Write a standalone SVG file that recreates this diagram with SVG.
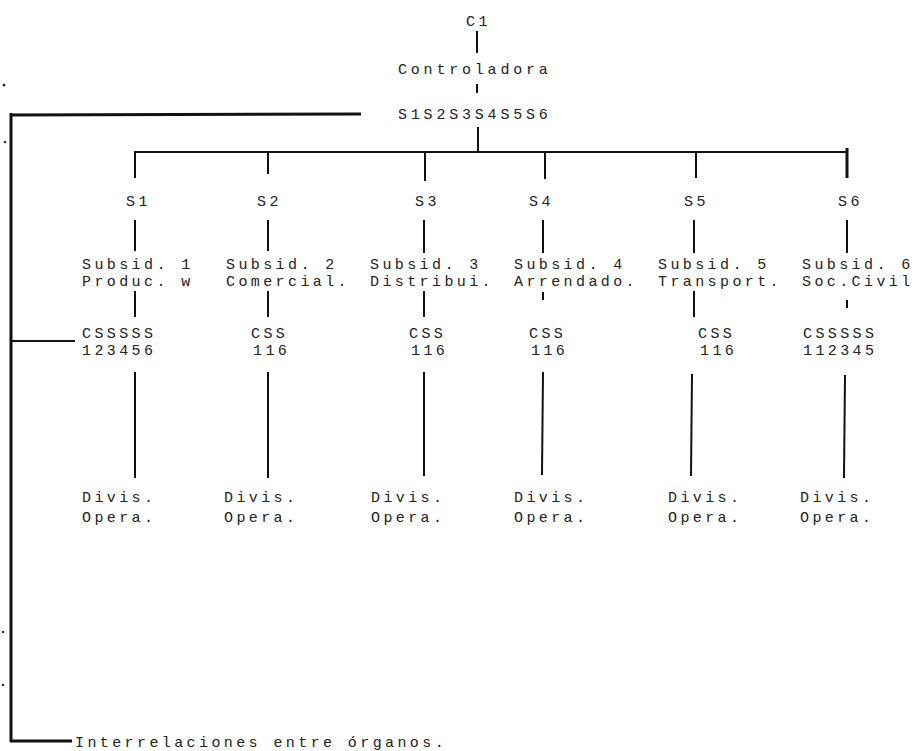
<svg xmlns="http://www.w3.org/2000/svg" width="921" height="751" viewBox="0 0 921 751">
<style>
  text { font-family: "Liberation Mono", "DejaVu Sans Mono", monospace; font-size: 15px; letter-spacing: 3.4px; fill: #222; }
  .wide { letter-spacing: 3.8px; }
  .ln { stroke: #111; stroke-width: 2; fill: none; stroke-linecap: square; }
  .thick { stroke: #111; stroke-width: 3; fill: none; }
  .dot { fill: #333; }
</style>
<rect width="921" height="751" fill="#fff"/>
<g id="connectors">
  <line class="ln" x1="477" y1="32" x2="477" y2="52"/>
  <line class="ln" x1="477" y1="85" x2="477" y2="92"/>
  <line class="ln" x1="478" y1="128" x2="478" y2="152"/>
  <line class="ln" x1="135" y1="152" x2="847" y2="152"/>
  <line class="ln" x1="135" y1="152" x2="135" y2="177"/>
  <line class="ln" x1="268" y1="152" x2="268" y2="173"/>
  <line class="ln" x1="425" y1="152" x2="425" y2="180"/>
  <line class="ln" x1="545" y1="152" x2="545" y2="178"/>
  <line class="ln" x1="696" y1="152" x2="696" y2="177"/>
  <line class="thick" x1="847" y1="148" x2="847" y2="178"/>
  <line class="ln" x1="135" y1="221" x2="135" y2="250"/>
  <line class="ln" x1="268" y1="221" x2="268" y2="250"/>
  <line class="ln" x1="424" y1="221" x2="424" y2="252"/>
  <line class="ln" x1="543" y1="221" x2="543" y2="252"/>
  <line class="ln" x1="694" y1="221" x2="694" y2="252"/>
  <line class="ln" x1="847" y1="221" x2="847" y2="252"/>
  <line class="ln" x1="135" y1="292" x2="135" y2="316"/>
  <line class="ln" x1="268" y1="292" x2="268" y2="316"/>
  <line class="ln" x1="424" y1="292" x2="424" y2="316"/>
  <line class="ln" x1="543" y1="293" x2="543" y2="299"/>
  <line class="ln" x1="694" y1="292" x2="694" y2="316"/>
  <line class="ln" x1="847" y1="301" x2="847" y2="307"/>
  <line class="ln" x1="135" y1="373" x2="135" y2="477"/>
  <line class="ln" x1="268" y1="373" x2="268" y2="477"/>
  <line class="ln" x1="424" y1="373" x2="424" y2="475"/>
  <line class="ln" x1="543" y1="373" x2="542" y2="474"/>
  <line class="ln" x1="692" y1="375" x2="691" y2="475"/>
  <line class="ln" x1="845" y1="376" x2="844" y2="477"/>
  <line class="thick" x1="11" y1="115" x2="361" y2="114"/>
  <line class="thick" x1="11" y1="113" x2="11" y2="742"/>
  <line class="ln" x1="11" y1="341" x2="74" y2="341"/>
  <line class="thick" x1="10" y1="741" x2="72" y2="741"/>
</g>
<g id="C1"><text x="466" y="26">C1</text></g>
<g id="controladora"><text class="wide" x="398" y="74">Controladora</text></g>
<g id="s1s6"><text class="wide" x="398" y="119">S1S2S3S4S5S6</text></g>
<g id="S1">
  <text x="126" y="206">S1</text>
  <text x="82" y="269">Subsid. 1</text>
  <text x="82" y="286">Produc. w</text>
  <text x="82" y="338">CSSSSS</text>
  <text x="82" y="355">123456</text>
  <text x="82" y="502">Divis.</text>
  <text x="82" y="522">Opera.</text>
</g>
<g id="S2">
  <text x="257" y="206">S2</text>
  <text x="226" y="269">Subsid. 2</text>
  <text x="226" y="286">Comercial.</text>
  <text x="251" y="338">CSS</text>
  <text x="253" y="355">116</text>
  <text x="224" y="502">Divis.</text>
  <text x="224" y="522">Opera.</text>
</g>
<g id="S3">
  <text x="415" y="206">S3</text>
  <text x="370" y="269">Subsid. 3</text>
  <text x="370" y="286">Distribui.</text>
  <text x="409" y="338">CSS</text>
  <text x="411" y="355">116</text>
  <text x="371" y="502">Divis.</text>
  <text x="371" y="522">Opera.</text>
</g>
<g id="S4">
  <text x="529" y="206">S4</text>
  <text x="514" y="269">Subsid. 4</text>
  <text x="514" y="286">Arrendado.</text>
  <text x="529" y="338">CSS</text>
  <text x="531" y="355">116</text>
  <text x="514" y="502">Divis.</text>
  <text x="514" y="522">Opera.</text>
</g>
<g id="S5">
  <text x="684" y="206">S5</text>
  <text x="658" y="269">Subsid. 5</text>
  <text x="658" y="286">Transport.</text>
  <text x="698" y="338">CSS</text>
  <text x="700" y="355">116</text>
  <text x="668" y="502">Divis.</text>
  <text x="668" y="522">Opera.</text>
</g>
<g id="S6">
  <text x="838" y="206">S6</text>
  <text x="802" y="269">Subsid. 6</text>
  <text x="802" y="286">Soc.Civil</text>
  <text x="803" y="338">CSSSSS</text>
  <text x="803" y="355">112345</text>
  <text x="800" y="502">Divis.</text>
  <text x="800" y="522">Opera.</text>
</g>
<g id="legend"><text x="75" y="747">Interrelaciones entre órganos.</text></g>
<g id="specks">
  <circle class="dot" cx="4" cy="85" r="1.5"/>
  <circle class="dot" cx="5" cy="142" r="1.3"/>
  <circle class="dot" cx="3" cy="632" r="1.3"/>
  <circle class="dot" cx="3" cy="685" r="1.3"/>
</g>
</svg>
